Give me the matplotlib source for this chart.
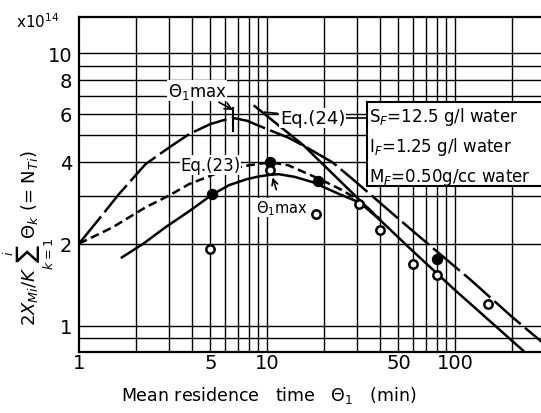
import matplotlib
matplotlib.use('Agg')
import matplotlib.pyplot as plt
from matplotlib.patches import Rectangle
from matplotlib.ticker import NullLocator

plt.rcParams['font.family'] = ['DejaVu Sans']
plt.rcParams['mathtext.fontset'] = 'dejavusans'

# ---- data ----
# long-dashed curve
a_x = [1, 1.3, 1.63, 2.26, 3.0, 3.85, 5.0, 6.5, 7.8, 10, 13, 16.3, 22.4, 28.7, 50, 76, 120, 200, 290]
a_y = [2.0, 2.5, 3.04, 3.92, 4.5, 5.05, 5.5, 5.8, 5.66, 5.27, 4.9, 4.51, 3.97, 3.44, 2.47, 1.93, 1.48, 1.08, 0.87]
# short-dashed curve (Eq.(23))
b_x = [1, 1.5, 2.26, 3.0, 3.85, 5.0, 5.78, 8, 10.4, 13, 19.1, 25, 31.2, 40]
b_y = [2.0, 2.29, 2.72, 3.0, 3.31, 3.55, 3.70, 3.88, 3.98, 3.88, 3.45, 3.15, 2.87, 2.46]
# solid curve
c_x = [1.69, 2.2, 2.89, 3.85, 5.08, 6.28, 7.8, 9.0, 10.4, 11.5, 14, 17.6, 24, 31.2, 40]
c_y = [1.78, 2.0, 2.30, 2.63, 3.02, 3.28, 3.45, 3.53, 3.58, 3.60, 3.52, 3.36, 3.05, 2.83, 2.44]
# solid straight line (Eq.(24))
d_x = [8.6, 15.6, 40, 60, 100, 230]
d_y = [6.4, 4.6, 2.44, 1.87, 1.35, 0.81]

filled_x = [5.1, 10.4, 18.7, 80]
filled_y = [3.04, 4.0, 3.40, 1.75]
open_x = [5.0, 10.4, 18.2, 31, 40, 60, 80, 150]
open_y = [1.91, 3.72, 2.58, 2.8, 2.24, 1.69, 1.54, 1.20]

peak_a = (6.6, 5.8)
peak_c = (10.9, 3.6)

x_grid = [2, 3, 4, 5, 6, 7, 8, 9, 10, 20, 30, 40, 50, 60, 70, 80, 90, 100, 200]
y_grid = [0.9, 1, 2, 3, 4, 5, 6, 7, 8, 9, 10]
x_ticks = [1, 5, 10, 50, 100]
x_ticklabels = ['1', '5', '10', '50', '100']
y_ticks = [1, 2, 4, 6, 8, 10]
y_ticklabels = ['1', '2', '4', '6', '8', '10']

# ---- figure ----
fig = plt.figure(figsize=(5.41, 4.14), dpi=100)
ax = fig.add_axes([79/541, 61/414, 462/541, 335/414])
ax.set_xscale('log')
ax.set_yscale('log')
ax.set_xlim(1, 286.6)
ax.set_ylim(0.8, 13.6)

for xv in x_grid:
    ax.axvline(xv, color='k', lw=1.0, zorder=1)
for yv in y_grid:
    ax.axhline(yv, color='k', lw=1.0, zorder=1)

ax.xaxis.set_minor_locator(NullLocator())
ax.yaxis.set_minor_locator(NullLocator())
ax.set_xticks(x_ticks)
ax.set_xticklabels(x_ticklabels)
ax.set_yticks(y_ticks)
ax.set_yticklabels(y_ticklabels)
ax.tick_params(length=0, labelsize=14)
ax.tick_params(axis='x', pad=1)
ax.tick_params(axis='y', pad=5)
for s in ['left', 'bottom', 'top']:
    ax.spines[s].set_linewidth(1.6)
ax.spines['right'].set_visible(False)

lw = 1.8
ax.plot(a_x, a_y, color='k', lw=lw, dashes=(14, 2.2), zorder=3)
ax.plot(b_x, b_y, color='k', lw=lw, dashes=(3.5, 1.8), zorder=3)
ax.plot(c_x, c_y, color='k', lw=lw, zorder=3)
ax.plot(d_x, d_y, color='k', lw=lw, zorder=3)

ax.plot(filled_x, filled_y, 'o', ms=7.2, color='k', zorder=8)
ax.plot(open_x, open_y, 'o', ms=6, mfc='white', mec='k', mew=1.8, zorder=8)

# box with conditions
box = Rectangle((0.623, 0.496), 0.5, 0.25, transform=ax.transAxes,
                facecolor='white', edgecolor='k', lw=1.5, zorder=4)
ax.add_patch(box)
ax.text(0.628, 0.703, r'S$_F$=12.5 g/l water', transform=ax.transAxes,
        fontsize=12, va='center', ha='left', zorder=6)
ax.text(0.628, 0.615, r'I$_F$=1.25 g/l water', transform=ax.transAxes,
        fontsize=12, va='center', ha='left', zorder=6)
ax.text(0.628, 0.525, r'M$_F$=0.50g/cc water', transform=ax.transAxes,
        fontsize=12, va='center', ha='left', zorder=6)

# labels on curves
ax.text(0.506, 0.699, 'Eq.(24)', transform=ax.transAxes, fontsize=13,
        va='center', ha='center', zorder=6,
        bbox=dict(facecolor='white', edgecolor='none', pad=0.5))
ax.plot([0.555, 0.623], [0.699, 0.699], transform=ax.transAxes, color='k', lw=1.2, zorder=5)
ax.annotate('', xy=(9.4, 6.1), xytext=(11.8, 6.0),
            arrowprops=dict(arrowstyle='-', lw=1.2, color='k'), zorder=5)
ax.text(0.285, 0.558, 'Eq.(23)', transform=ax.transAxes, fontsize=12,
        va='center', ha='center', zorder=6,
        bbox=dict(facecolor='white', edgecolor='none', pad=0.5))

ax.annotate(r'$\Theta_1$max', xy=(peak_a[0], peak_a[1] + 0.4), xytext=(4.25, 7.3),
            fontsize=12, ha='center', va='center', zorder=6,
            arrowprops=dict(arrowstyle='->', lw=1.2, color='k', shrinkA=2, shrinkB=0),
            bbox=dict(facecolor='white', edgecolor='none', pad=0.3))
ax.plot([peak_a[0], peak_a[0]], [5.2, 6.3], color='k', lw=1.5, zorder=4)

ax.annotate(r'$\Theta_1$max', xy=(peak_c[0] - 0.2, peak_c[1] - 0.1), xytext=(12.0, 2.72),
            fontsize=10.5, ha='center', va='center', zorder=6,
            arrowprops=dict(arrowstyle='->', lw=1.2, color='k', shrinkA=6, shrinkB=0),
            bbox=dict(facecolor='white', edgecolor='none', pad=0.2))

# axis titles
ax.text(-0.089, 0.988, r'x10$^{14}$', transform=ax.transAxes, fontsize=11,
        va='center', ha='center')
ax.text(-0.11, 0.343, r'$2X_{Mi}/K\sum_{k=1}^{i}\Theta_k$ (= N$_{Ti}$)', transform=ax.transAxes,
        fontsize=13, rotation=90, va='center', ha='center')
ax.text(0.41, -0.128, r'Mean residence   time   $\Theta_1$   (min)', transform=ax.transAxes,
        fontsize=12.5, va='center', ha='center')

fig.savefig('out.png', dpi=100)
